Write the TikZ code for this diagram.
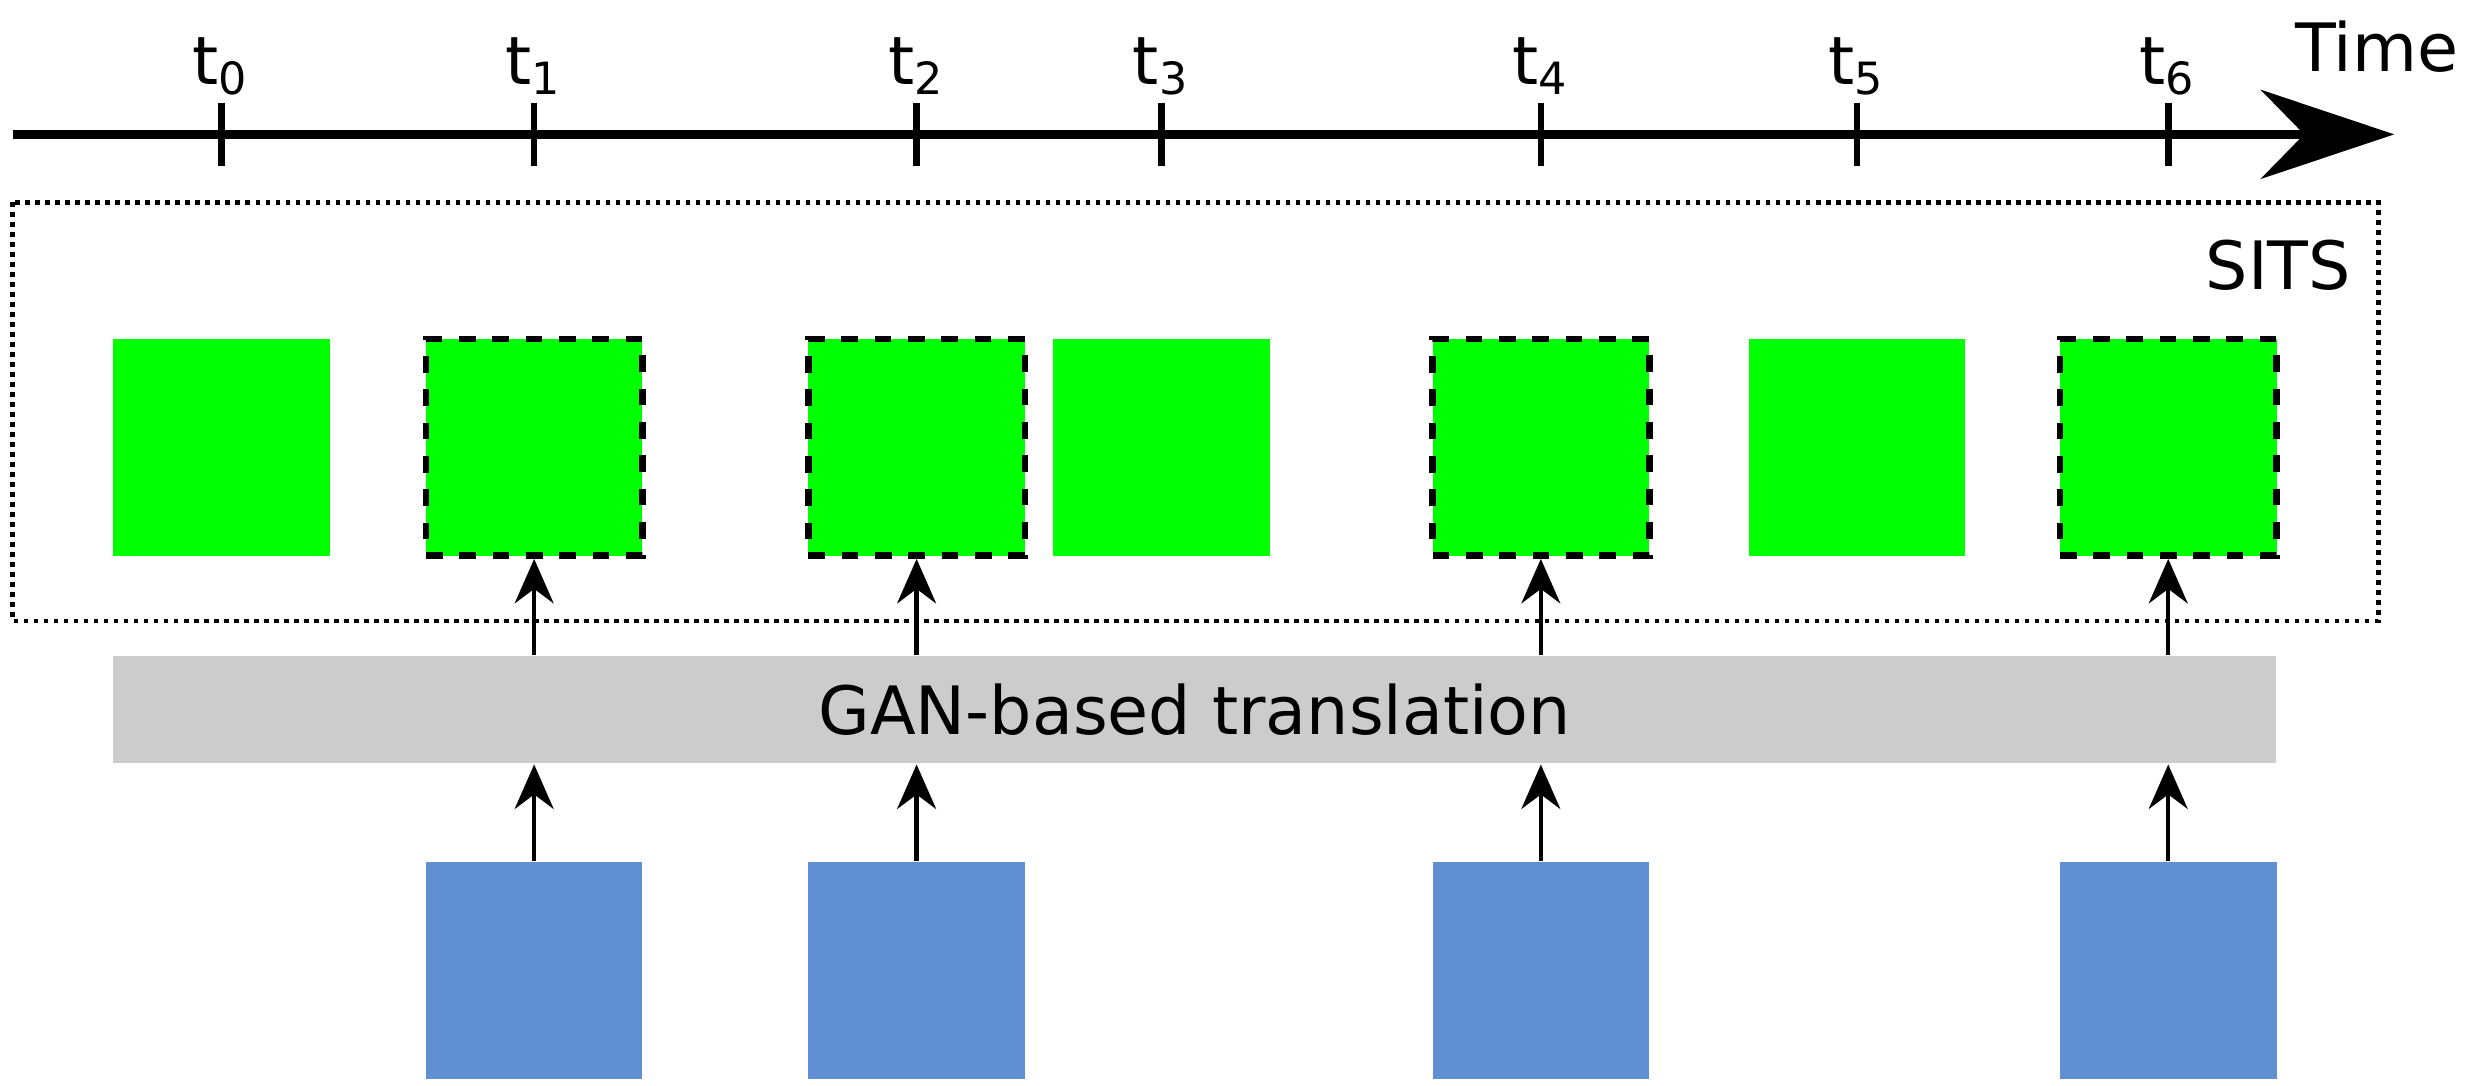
\documentclass[tikz,border=0pt]{standalone}
\usepackage{fontspec}
\setmainfont{DejaVu Sans}
\usetikzlibrary{arrows.meta, positioning}

\begin{document}
\begin{tikzpicture}[x=0.01cm, y=-0.01cm,
    font=\fontsize{12}{14}\selectfont,
    img/.style={minimum size=1.37cm, inner sep=0pt, fill=green},
    gen/.style={img, draw=black, dashed, line width=1.2pt},
    sar/.style={minimum size=1.37cm, inner sep=0pt, fill={rgb,255:red,96;green,143;blue,212}},
    tick/.style={line width=1.2pt},
    link/.style={-{Stealth[length=8pt, width=7pt]}, thick}
    ]
    \useasboundingbox (0,0) rectangle (1568,687);
    % time axis
    \coordinate (start) at (8,85);
    \coordinate (end) at (1515,85);
    \draw[line width=1.5pt, -{Stealth[length=24pt, width=16pt]}] (start) -- (end);
    \node[anchor=south east] (time) at (1568,58) {Time};
    \foreach \i/\x in {0/140,1/338,2/580,3/735,4/975,5/1175,6/1372}{
        \draw[tick] (\x,65) -- (\x,105);
        \node (t\i) at (\x,42) {t\textsubscript{\i}};
    }
    % SITS box
    \draw[densely dotted, thick] (8,128) rectangle (1505,393);
    \node[anchor=east] (sits) at (1500,168) {SITS};
    % images
    \foreach \i/\x in {0/140,3/735,5/1175}
        \node[img] (g\i) at (\x,283) {};
    \foreach \i/\x in {1/338,2/580,4/975,6/1372}
        \node[gen] (g\i) at (\x,283) {};
    \foreach \i/\x in {1/338,2/580,4/975,6/1372}
        \node[sar] (s\i) at (\x,614) {};
    % translation
    \node[fill=black!20, minimum width=13.68cm, minimum height=0.68cm] (gan) at (756,449) {GAN-based translation};
    \foreach \i in {1,2,4,6}{
        \draw[link] (s\i.north) -- (s\i.north |- gan.south);
        \draw[link] (g\i.south |- gan.north) -- (g\i.south);
    }
\end{tikzpicture}
\end{document}
